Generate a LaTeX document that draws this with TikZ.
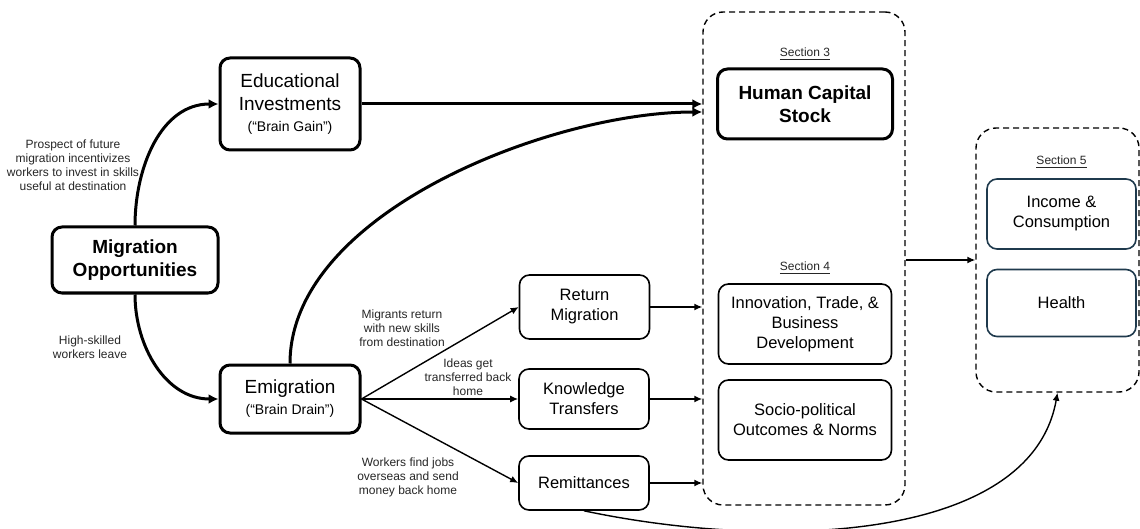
\documentclass[tikz,border=0pt]{standalone}
\usepackage{fontspec}
\setmainfont{Liberation Sans}
\usetikzlibrary{positioning,fit,arrows.meta}
\definecolor{outline}{HTML}{1F3A4D}

\begin{document}
\begin{tikzpicture}[x=0.5pt,y=-0.5pt,on grid,
    box/.style={draw,rounded corners=5pt,line width=0.8pt,align=center,inner sep=1pt,
      font=\fontsize{8.25}{10}\selectfont,minimum width=65pt},
    thickbox/.style={box,line width=1.5pt,font=\fontsize{9.5}{11.5}\selectfont},
    outbox/.style={box,draw=outline,minimum width=74.5pt},
    secbox/.style={draw,dash pattern=on 3pt off 2pt,rounded corners=10pt,line width=0.7pt,inner sep=0pt},
    note/.style={align=center,font=\fontsize{6}{7}\selectfont,text=black!85},
    sec/.style={font=\fontsize{6}{7}\selectfont,text=black!85},
    thin/.style={-{Latex[length=4pt,width=3.5pt]},line width=0.7pt},
    heavy/.style={-{Latex[length=5pt,width=5pt]},line width=1.5pt}]
  \useasboundingbox (0,0) rectangle (1140,529);

  \node[thickbox,font=\fontsize{9.5}{11.5}\bfseries,minimum width=83pt,minimum height=33pt] (mig) at (135,260) {Migration\\Opportunities};
  \node[thickbox,minimum width=70pt,minimum height=46pt] (edu) [above right=78pt and 77.5pt of mig] {Educational\\Investments\\[-1pt]{\fontsize{7}{9}\selectfont (“Brain Gain”)}};
  \node[thickbox,minimum width=70pt,minimum height=34pt] (emi) [below right=69.5pt and 77.5pt of mig] {Emigration\\[-1pt]{\fontsize{7}{9}\selectfont (“Brain Drain”)}};

  \node[box,minimum height=32pt] (ret) [above right=46pt and 147.25pt of emi] {Return\\Migration};
  \node[box,minimum height=30pt] (kno) [right=147pt of emi] {Knowledge\\Transfers};
  \node[box,minimum height=27pt] (rem) [below=42pt of kno] {Remittances};

  \node[thickbox,font=\fontsize{9.5}{11.5}\bfseries,minimum width=87.5pt,minimum height=35pt] (hcs) [right=257.5pt of edu] {Human Capital\\Stock};
  \node[box,minimum width=86.5pt,minimum height=40pt] (inn) [below=110pt of hcs] {Innovation, Trade, \&\\Business\\Development};
  \node[box,minimum width=86.5pt,minimum height=40pt] (soc) [below=48pt of inn] {Socio-political\\Outcomes \& Norms};

  \node[outbox,minimum height=35pt] (inc) [below right=55pt and 128.25pt of hcs] {Income \&\\Consumption};
  \node[outbox,minimum height=33.5pt] (hea) [below=44.5pt of inc] {Health};

  % section frames
  \coordinate (s34a) at (703,12);
  \coordinate (s34b) at (905,505);
  \node[secbox,fit=(s34a)(s34b)] (sec34) {};
  \coordinate (s5a) at (976,128);
  \coordinate (s5b) at (1139,392);
  \node[secbox,fit=(s5a)(s5b)] (sec5) {};

  \node[sec] (lab3) [above=25pt of hcs] {\underline{Section 3}};
  \node[sec] (lab4) [above=28pt of inn] {\underline{Section 4}};
  \node[sec] (lab5) [above=26pt of inc] {\underline{Section 5}};

  % labels
  \node[note] (n1) at (73,165) {Prospect of future\\migration incentivizes\\workers to invest in skills\\useful at destination};
  \node[note] (n2) at (90,347) {High-skilled\\workers leave};
  \node[note] (n3) at (402,328) {Migrants return\\with new skills\\from destination};
  \node[note] (n4) at (468,377) {Ideas get\\transferred back\\home};
  \node[note] (n5) at (408,477) {Workers find jobs\\overseas and send\\money back home};

  \path[heavy]
    (mig) edge [out=90,in=180] (edu)
          edge [out=-90,in=180] (emi)
    (edu) edge (edu -| sec34.west)
    (emi) edge [out=90,in=180,looseness=0.8] ([yshift=-4pt]edu -| sec34.west);

  \path[thin]
    (emi.east) edge (ret.west)
               edge (kno.west)
               edge (rem.west)
    (ret) edge (ret -| sec34.west)
    (kno) edge [line width=1pt] (kno -| sec34.west)
    (rem) edge (rem -| sec34.west)
    (sec34.east |- sec5.west) edge (sec5.west)
    (rem.south) edge [out=-12,in=-100,out looseness=1,in looseness=0.8] (sec5.south);
\end{tikzpicture}
\end{document}
